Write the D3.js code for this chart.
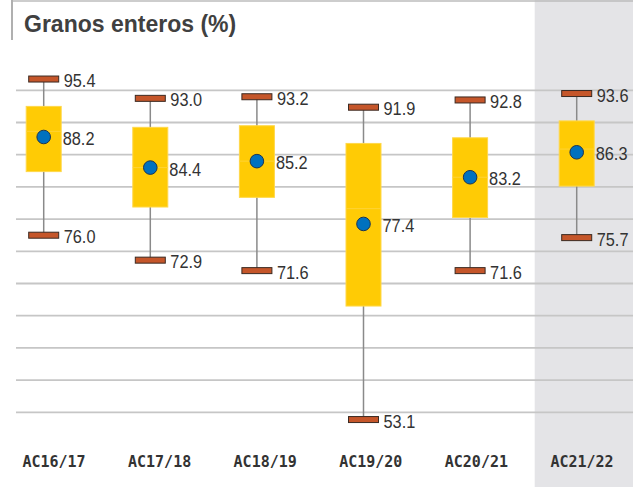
<!DOCTYPE html>
<html>
<head>
<meta charset="utf-8">
<script src="https://cdn.jsdelivr.net/npm/d3@7"></script>
<style>
  html, body { margin: 0; padding: 0; background: #fff; }
  svg { display: block; }
</style>
</head>
<body>
<svg id="chart" width="633" height="487"></svg>
<script>
// Campaigns and their whole-grain percentage statistics
const campaigns = ["AC16/17", "AC17/18", "AC18/19", "AC19/20", "AC20/21", "AC21/22"];
const maxValues = [95.4, 93.0, 93.2, 91.9, 92.8, 93.6];
const q3Values = [92.0, 89.4, 89.6, 87.4, 88.1, 90.2];
const medianValues = [88.9, 84.4, 85.2, 79.3, 83.2, 86.7];
const meanValues = [88.2, 84.4, 85.2, 77.4, 83.2, 86.3];
const q1Values = [83.9, 79.5, 80.7, 67.2, 78.2, 82.1];
const minValues = [76.0, 72.9, 71.6, 53.1, 71.6, 75.7];
const gridTicks = [54, 58, 62, 66, 70, 74, 78, 82, 86, 90, 94];
const titleText = "Granos enteros (%)";

const W = 633, H = 487;
const svg = d3.select("#chart");

const x = d3.scaleBand().domain(campaigns).range([-9.6, 630]).padding(0);
const xLabel = d3.scalePoint().domain(campaigns).range([54, 582]);
const y = d3.scaleLinear().domain([50, 98]).range([444.5, 58.1]);
const cx = c => x(c) + x.bandwidth() / 2;

const fmt = d3.format(".1f");
const labelFont = "'Liberation Sans', Arial, sans-serif";
const narrow = 0.86; // horizontal squeeze giving the condensed label look

// Highlighted current campaign column
const last = campaigns[campaigns.length - 1];
svg.append("rect")
  .attr("x", cx(last) - 42).attr("y", 0)
  .attr("width", W - (cx(last) - 42)).attr("height", H)
  .attr("fill", "#e4e4e7");

// Title frame lines
svg.append("line").attr("x1", 12).attr("x2", W).attr("y1", 1).attr("y2", 1)
  .attr("stroke", "#bdbdbd").attr("stroke-width", 1.5);
svg.append("line").attr("x1", 12).attr("x2", 12).attr("y1", 0).attr("y2", 40)
  .attr("stroke", "#b0b0b0").attr("stroke-width", 2);

svg.append("text")
  .attr("x", 24).attr("y", 32)
  .attr("font-family", "'Liberation Sans', Arial, sans-serif")
  .attr("font-weight", "bold").attr("font-size", 23)
  .attr("fill", "#404040")
  .text(titleText);

// Horizontal gridlines
svg.append("g").selectAll("line").data(gridTicks).join("line")
  .attr("x1", 16).attr("x2", W)
  .attr("y1", d => y(d)).attr("y2", d => y(d))
  .attr("stroke", "#c6c6c6").attr("stroke-width", 1.8);

const rows = campaigns.map((c, i) => ({
  c, max: maxValues[i], q3: q3Values[i], med: medianValues[i],
  mean: meanValues[i], q1: q1Values[i], min: minValues[i]
}));

const g = svg.append("g");

// Whiskers
g.selectAll(".whisker").data(rows).join("line")
  .attr("class", "whisker")
  .attr("x1", d => cx(d.c)).attr("x2", d => cx(d.c))
  .attr("y1", d => y(d.max)).attr("y2", d => y(d.min))
  .attr("stroke", "#8a8a8a").attr("stroke-width", 1.5);

// Interquartile boxes
const boxW = 35;
g.selectAll(".box").data(rows).join("rect")
  .attr("class", "box")
  .attr("x", d => cx(d.c) - boxW / 2).attr("width", boxW)
  .attr("y", d => y(d.q3)).attr("height", d => y(d.q1) - y(d.q3))
  .attr("fill", "#ffcb05").attr("stroke", "#ffd84a").attr("stroke-width", 1);

// Median lines
g.selectAll(".median").data(rows).join("line")
  .attr("class", "median")
  .attr("x1", d => cx(d.c) - boxW / 2).attr("x2", d => cx(d.c) + boxW / 2)
  .attr("y1", d => y(d.med)).attr("y2", d => y(d.med))
  .attr("stroke", "#ffd335").attr("stroke-width", 1);

function valueLabel(sel, key, dx) {
  sel.attr("transform", d => `translate(${cx(d.c) + dx},${y(d[key]) + 8}) scale(${narrow},1)`)
    .attr("font-family", labelFont).attr("font-size", 19)
    .attr("fill", "#333")
    .text(d => fmt(d[key]));
}

// Min / max caps
const capW = 30, capH = 6;
["max", "min"].forEach(k => {
  g.selectAll(".cap-" + k).data(rows).join("rect")
    .attr("class", "cap-" + k)
    .attr("x", d => cx(d.c) - capW / 2).attr("width", capW)
    .attr("y", d => y(d[k]) - capH / 2).attr("height", capH)
    .attr("fill", "#c5562a").attr("stroke", "#3b2a22").attr("stroke-width", 1);

  g.selectAll(".lab-" + k).data(rows).join("text")
    .attr("class", "lab-" + k)
    .call(valueLabel, k, 20);
});

// Mean markers
g.selectAll(".mean").data(rows).join("circle")
  .attr("class", "mean")
  .attr("cx", d => cx(d.c)).attr("cy", d => y(d.mean)).attr("r", 6.8)
  .attr("fill", "#0071bf").attr("stroke", "#1d3550").attr("stroke-width", 1);

g.selectAll(".lab-mean").data(rows).join("text")
  .attr("class", "lab-mean")
  .call(valueLabel, "mean", 19);

// Category labels
svg.append("g").selectAll("text").data(campaigns).join("text")
  .attr("x", d => xLabel(d)).attr("y", 466.5)
  .attr("text-anchor", "middle")
  .attr("font-family", "'DejaVu Sans Mono', monospace")
  .attr("font-weight", "bold").attr("font-size", 15)
  .attr("fill", "#333")
  .text(d => d);
</script>
</body>
</html>
